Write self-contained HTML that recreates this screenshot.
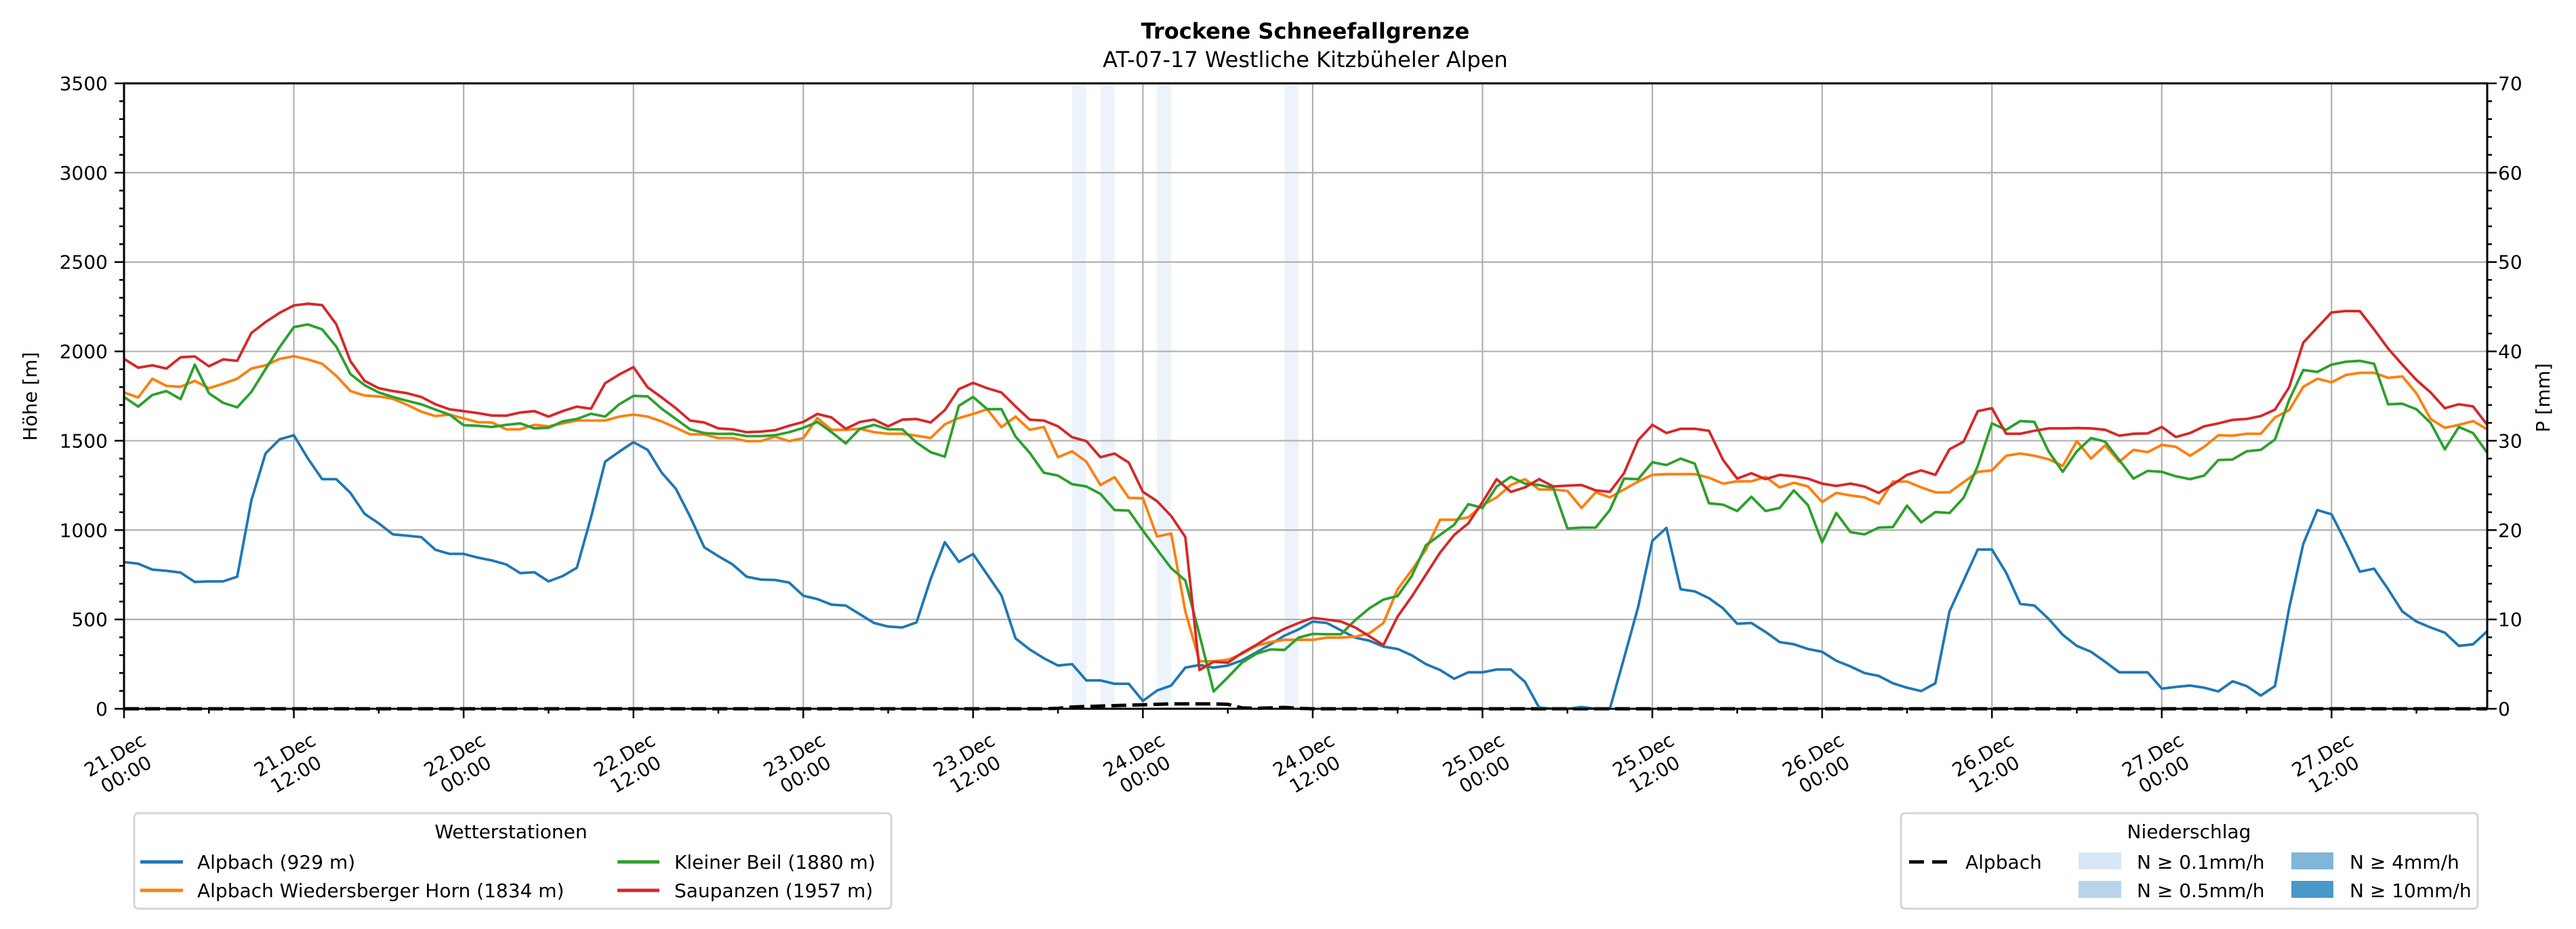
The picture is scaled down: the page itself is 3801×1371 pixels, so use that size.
<!DOCTYPE html>
<html><head><meta charset="utf-8"><title>Trockene Schneefallgrenze</title>
<style>
html,body{margin:0;padding:0;background:#fff;}
svg{display:block;font-family:"DejaVu Sans","Liberation Sans",sans-serif;}
</style></head>
<body>
<svg id="chart" xmlns="http://www.w3.org/2000/svg" width="3801" height="1371" viewBox="0 0 3801 1371">
<rect x="0" y="0" width="3801" height="1371" fill="#fff"/>
<text x="1926" y="57" text-anchor="middle" font-size="32" font-weight="bold">Trockene Schneefallgrenze</text>
<text x="1926" y="99" text-anchor="middle" font-size="32">AT-07-17 Westliche Kitzbüheler Alpen</text>
<g id="bands"></g>
<g id="grid"></g>
<g id="series"></g>
<g id="axes"></g>
<text x="0" y="0" transform="translate(54,585) rotate(-90)" text-anchor="middle" font-size="28">Höhe [m]</text>
<text x="0" y="0" transform="translate(3762,587) rotate(-90)" text-anchor="middle" font-size="28">P [mm]</text>

<g>
<rect x="198" y="1200" width="1117" height="141" rx="6" fill="#fff" stroke="#d5d5d5" stroke-width="3"/>
<text x="754" y="1237" text-anchor="middle" font-size="28">Wetterstationen</text>
<g><line x1="207" y1="1272" x2="270" y2="1272" stroke="#1f77b4" stroke-width="5"/><text x="291" y="1282" font-size="28">Alpbach (929 m)</text></g>
<g><line x1="207" y1="1314" x2="270" y2="1314" stroke="#ff7f0e" stroke-width="5"/><text x="291" y="1324" font-size="28">Alpbach Wiedersberger Horn (1834 m)</text></g>
<g><line x1="911" y1="1272" x2="973" y2="1272" stroke="#2ca02c" stroke-width="5"/><text x="995" y="1282" font-size="28">Kleiner Beil (1880 m)</text></g>
<g><line x1="911" y1="1314" x2="973" y2="1314" stroke="#d62728" stroke-width="5"/><text x="995" y="1324" font-size="28">Saupanzen (1957 m)</text></g>
</g>

<g>
<rect x="2805" y="1200" width="851" height="141" rx="6" fill="#fff" stroke="#d5d5d5" stroke-width="3"/>
<text x="3230" y="1237" text-anchor="middle" font-size="28">Niederschlag</text>
<g><line x1="2817" y1="1272" x2="2873" y2="1272" stroke="#000" stroke-width="5" stroke-dasharray="22 12"/><text x="2900" y="1282" font-size="28">Alpbach</text></g>
<g><rect x="3067" y="1258" width="63" height="25" fill="#d8e7f5"/><text x="3153" y="1282" font-size="28">N ≥ 0.1mm/h</text></g>
<g><rect x="3067" y="1300" width="63" height="25" fill="#b8d4ea"/><text x="3153" y="1324" font-size="28">N ≥ 0.5mm/h</text></g>
<g><rect x="3381" y="1258" width="62" height="25" fill="#7fb6d9"/><text x="3467" y="1282" font-size="28">N ≥ 4mm/h</text></g>
<g><rect x="3381" y="1300" width="62" height="25" fill="#4a98c9"/><text x="3467" y="1324" font-size="28">N ≥ 10mm/h</text></g>
</g>
</svg>
<script>
const alpbach = [821,812,779,772,762,710,713,713,739,1166,1429,1508,1531,1400,1285,1285,1208,1091,1038,976,969,961,890,867,867,846,830,808,759,764,713,743,789,1071,1383,1439,1492,1449,1321,1231,1076,904,854,
808,739,723,721,706,633,614,583,578,529,480,460,455,483,726,932,822,866,751,636,394,332,283,242,250,159,159,140,140,44,102,130,230,245,230,242,271,315,360,409,444,488,
480,439,398,381,348,335,299,250,217,168,204,204,220,220,151,7,0,0,10,0,0,283,570,940,1012,669,657,619,562,476,480,430,373,361,335,319,269,237,200,184,143,
118,99,143,545,718,891,891,762,587,578,504,414,352,319,263,204,204,204,113,122,130,118,97,154,127,74,127,562,923,1112,1088,932,767,784,669,545,488,455,426,352,361,434];
const wiedersberger = [1770,1742,1847,1807,1802,1835,1794,1819,1847,1904,1922,1958,1973,1955,1931,1863,1778,1753,1748,1735,1701,1663,1638,1646,1625,1604,1602,1564,1564,1589,1581,1597,1613,1613,1613,1635,1646,1635,1608,1572,1536,1535,1515,
1515,1498,1498,1523,1498,1515,1627,1561,1561,1567,1548,1539,1539,1528,1515,1592,1627,1650,1676,1576,1635,1561,1577,1408,1441,1383,1252,1296,1181,1178,964,981,545,266,266,274,307,352,373,386,386,386,
398,398,403,422,480,669,776,891,1058,1058,1071,1140,1183,1252,1285,1227,1227,1219,1124,1211,1183,1227,1272,1309,1313,1313,1313,1293,1260,1273,1273,1298,1239,1265,1244,1157,1208,1194,1183,1148,1272,
1272,1239,1211,1211,1268,1326,1334,1416,1429,1416,1397,1359,1498,1400,1474,1383,1449,1436,1477,1466,1416,1466,1531,1528,1539,1539,1630,1671,1802,1847,1827,1868,1880,1880,1852,1860,1765,1622,1572,1589,1610,1564];
const kleinerBeil = [1745,1691,1756,1778,1733,1926,1766,1712,1687,1773,1901,2024,2136,2151,2123,2027,1873,1811,1770,1745,1724,1704,1674,1646,1587,1584,1577,1589,1597,1569,1572,1608,1622,1651,1635,1704,1751,1748,1679,1622,1564,1543,1538,
1539,1526,1526,1531,1548,1572,1605,1548,1485,1567,1589,1564,1564,1490,1436,1411,1696,1745,1677,1677,1523,1433,1321,1305,1257,1244,1203,1112,1109,997,891,787,718,414,97,176,258,307,332,329,398,419,
417,417,496,562,611,631,743,915,973,1030,1145,1124,1244,1298,1260,1252,1236,1009,1014,1014,1112,1288,1285,1380,1364,1400,1372,1150,1142,1107,1186,1107,1124,1222,1140,932,1096,989,976,1014,1017,
1137,1043,1101,1096,1181,1359,1597,1561,1610,1605,1441,1326,1441,1515,1495,1392,1288,1331,1326,1301,1285,1305,1392,1395,1441,1449,1507,1728,1896,1885,1926,1942,1947,1931,1704,1707,1676,1600,1452,1577,1543,1433];
const saupanzen = [1958,1909,1922,1904,1967,1972,1917,1955,1947,2103,2164,2216,2257,2267,2259,2152,1945,1835,1794,1778,1766,1745,1704,1676,1666,1655,1641,1640,1658,1666,1635,1666,1691,1679,1822,1871,1912,1799,1742,1682,1613,1602,1569,
1564,1548,1551,1559,1584,1605,1650,1630,1567,1605,1618,1581,1618,1622,1602,1671,1789,1824,1794,1770,1692,1618,1613,1581,1520,1498,1408,1428,1378,1214,1162,1079,961,217,263,258,312,357,406,447,480,509,
499,488,455,406,357,516,628,751,874,973,1038,1157,1285,1214,1239,1285,1244,1249,1252,1222,1214,1318,1503,1589,1543,1567,1567,1556,1392,1288,1318,1285,1309,1301,1288,1260,1247,1260,1244,1208,1255,
1309,1334,1309,1452,1495,1666,1682,1539,1539,1556,1569,1569,1571,1569,1561,1528,1539,1541,1577,1521,1543,1581,1597,1617,1622,1638,1674,1799,2049,2134,2218,2226,2225,2123,2016,1926,1840,1770,1682,1704,1692,1589];
const precipLineHours = [66,67,68,69,70,71,72,73,74,75,76,77,78,79,80,81,82,83];
const precipLineValues = [0.05,0.2,0.25,0.3,0.35,0.4,0.45,0.5,0.55,0.55,0.55,0.55,0.5,0.1,0.05,0.1,0.15,0.05];
const bandHours = [67,69,73,82];
const bandRates = [0.2,0.3,0.2,0.15];
const yTicks = [0,500,1000,1500,2000,2500,3000,3500];
const y2Ticks = [0,10,20,30,40,50,60,70];
const xTickHours = [0,12,24,36,48,60,72,84,96,108,120,132,144,156];
const xTickDays = ["21.Dec","21.Dec","22.Dec","22.Dec","23.Dec","23.Dec","24.Dec","24.Dec","25.Dec","25.Dec","26.Dec","26.Dec","27.Dec","27.Dec"];
const xTickTimes = ["00:00","12:00","00:00","12:00","00:00","12:00","00:00","12:00","00:00","12:00","00:00","12:00","00:00","12:00"];

const NS = "http://www.w3.org/2000/svg";
const L = 183, R = 3670, T = 123, B = 1046, HMAX = 167;
const xS = h => L + (R - L) * h / HMAX;
const yS = v => B - (B - T) * v / 3500;
const y2S = v => B - (B - T) * v / 70;
function mk(tag, attrs, parent) {
  const e = document.createElementNS(NS, tag);
  for (const k in attrs) e.setAttribute(k, attrs[k]);
  parent.appendChild(e);
  return e;
}
const gB = document.getElementById('bands'), gG = document.getElementById('grid'),
      gS = document.getElementById('series'), gA = document.getElementById('axes');

bandHours.forEach((h, i) => {
  const col = bandRates[i] >= 10 ? "#4a98c9" : bandRates[i] >= 4 ? "#7fb6d9" : bandRates[i] >= 0.5 ? "#b8d4ea" : "#edf3fb";
  const r = mk('rect', {x: xS(h), y: T, width: xS(h + 1) - xS(h), height: B - T, fill: col}, gB);
  
  
});

yTicks.forEach(v => {
  if (v === 0) return;
  const l = mk('line', {x1: L, x2: R, y1: yS(v), y2: yS(v), stroke: "#b0b0b0", "stroke-width": 2.2}, gG);
  
  
});
xTickHours.forEach(h => {
  if (h === 0) return;
  const l = mk('line', {x1: xS(h), x2: xS(h), y1: T, y2: B, stroke: "#b0b0b0", "stroke-width": 2.2}, gG);
  
  
});

// precipitation dashed line
const pVals = [];
for (let h = 0; h <= HMAX; h++) { const i = precipLineHours.indexOf(h); pVals.push(i >= 0 ? precipLineValues[i] : 0); }
const pp = mk('polyline', {points: pVals.map((v, h) => xS(h).toFixed(1) + "," + y2S(v).toFixed(1)).join(" "),
  fill: "none", stroke: "#000", "stroke-width": 5, "stroke-dasharray": "22 9"}, gS);



const seriesList = [[alpbach, "#1f77b4", "line-alpbach"], [wiedersberger, "#ff7f0e", "line-wiedersberger-horn"],
                    [kleinerBeil, "#2ca02c", "line-kleiner-beil"], [saupanzen, "#d62728", "line-saupanzen"]];
seriesList.forEach(s => {
  const p = mk('polyline', {points: s[0].map((v, h) => xS(h).toFixed(1) + "," + yS(v).toFixed(1)).join(" "),
    fill: "none", stroke: s[1], "stroke-width": 3.8, "stroke-linejoin": "round"}, gS);
  
  
});

// axes frame
const fr = mk('rect', {x: L, y: T, width: R - L, height: B - T, fill: "none", stroke: "#000", "stroke-width": 3}, gA);



// y ticks
for (let v = 0; v <= 3500; v += 100) {
  const major = v % 500 === 0;
  const t = mk('line', {x1: L - (major ? 14 : 7), x2: L, y1: yS(v), y2: yS(v), stroke: "#000", "stroke-width": 2.5}, gA);
  
  
}
yTicks.forEach(v => {
  const t = mk('text', {x: L - 24, y: yS(v) + 10, "text-anchor": "end", "font-size": 28}, gA);
  t.textContent = String(v);
  
  
});
for (let v = 0; v <= 70; v += 2) {
  const major = v % 10 === 0;
  const t = mk('line', {x1: R, x2: R + (major ? 14 : 7), y1: y2S(v), y2: y2S(v), stroke: "#000", "stroke-width": 2.5}, gA);
  
  
}
y2Ticks.forEach(v => {
  const t = mk('text', {x: R + 16, y: y2S(v) + 10, "text-anchor": "start", "font-size": 28}, gA);
  t.textContent = String(v);
  
  
});
// x ticks
for (let h = 0; h <= HMAX; h += 6) {
  const major = h % 12 === 0;
  const t = mk('line', {x1: xS(h), x2: xS(h), y1: B, y2: B + (major ? 14 : 7), stroke: "#000", "stroke-width": 2.5}, gA);
  
  
}
xTickHours.forEach((h, i) => {
  const g = mk('g', {transform: "translate(" + (xS(h) - 6).toFixed(1) + ",1127) rotate(-30)"}, gA);
  
  
  const t1 = mk('text', {x: 0, y: -5, "text-anchor": "middle", "font-size": 28}, g);
  t1.textContent = xTickDays[i];
  const t2 = mk('text', {x: 0, y: 28, "text-anchor": "middle", "font-size": 28}, g);
  t2.textContent = xTickTimes[i];
});
</script>
</body></html>
